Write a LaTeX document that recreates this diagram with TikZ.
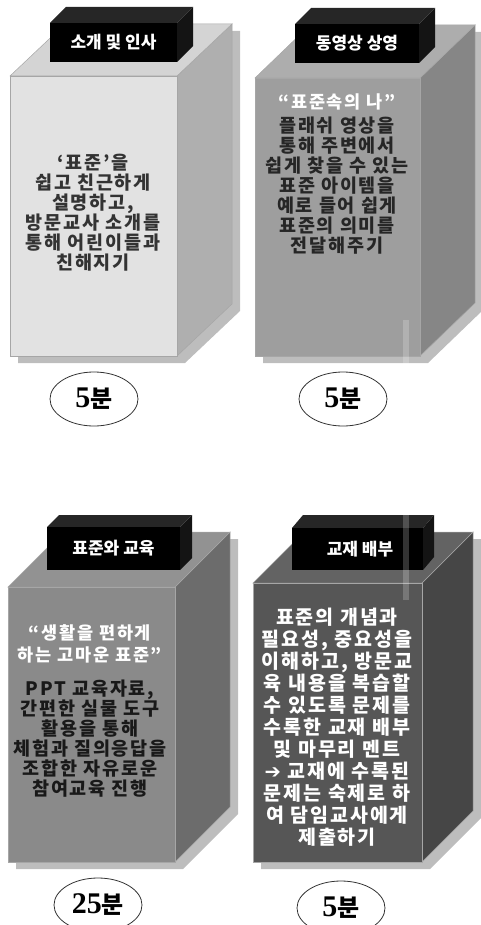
\documentclass[tikz,border=0pt]{standalone}
\usepackage{fontspec}
\setmainfont{Noto Sans CJK KR}
\newfontfamily\bodyfont[LetterSpace=10]{Noto Sans CJK KR}
\newfontfamily\numfont{Liberation Serif}
\newfontfamily\symfont{DejaVu Sans}
\usetikzlibrary{shapes.geometric}

\definecolor{frontA}{HTML}{E2E2E2}
\definecolor{topA}{HTML}{D4D4D4}
\definecolor{sideA}{HTML}{AFAFAF}
\definecolor{frontB}{HTML}{9E9E9E}
\definecolor{topB}{HTML}{ADADAD}
\definecolor{sideB}{HTML}{868686}
\definecolor{frontC}{HTML}{8A8A8A}
\definecolor{topC}{HTML}{929292}
\definecolor{sideC}{HTML}{6C6C6C}
\definecolor{frontD}{HTML}{565656}
\definecolor{topD}{HTML}{636363}
\definecolor{sideD}{HTML}{464646}
\definecolor{castgray}{HTML}{BDBDBD}

\begin{document}
\begin{tikzpicture}[
        x=1pt, y=-1pt,
        % Define styles for consistency
        face/.style={draw=black!35, line width=0.5pt},
        cast/.style={fill=castgray},
        tabfront/.style={fill=black},
        tabtop/.style={fill=black!85},
        tabside/.style={fill=black!92},
        tablabel/.style={text=white, font=\fontsize{17}{17}\selectfont\bfseries},
        bodytext/.style={align=center, font=\fontsize{18.5}{20}\bodyfont\bfseries},
        quotetext/.style={align=center, text=white, font=\fontsize{17.5}{22}\bodyfont\bfseries},
        timebox/.style={ellipse, draw=black!80, line width=0.8pt, fill=white,
                        minimum width=88pt, minimum height=54pt, inner sep=0pt,
                        font=\fontsize{24}{24}\selectfont\bfseries}
    ]

        \useasboundingbox (0,0) rectangle (481,925);

        % --- Shadows ---
        \fill[cast, shift={(8,7)}] (10,356) -- (10,76) -- (65,24) -- (232,24) -- (232,304) -- (177,356) -- cycle;
        \fill[cast, shift={(8,7)}] (255,356) -- (255,78) -- (310,25) -- (475,25) -- (475,303) -- (420,356) -- cycle;
        \fill[cast, shift={(8,7)}] (8,862) -- (8,587) -- (63,532) -- (230,532) -- (230,807) -- (175,862) -- cycle;
        \fill[cast, shift={(8,7)}] (253,862) -- (253,583) -- (304,532) -- (473,532) -- (473,811) -- (422,862) -- cycle;

        % --- Box 1: introduction ---
        \filldraw[face, fill=sideA] (177,76) -- (232,24) -- (232,304) -- (177,356) -- cycle;
        \filldraw[face, fill=topA] (10,76) -- (65,24) -- (232,24) -- (177,76) -- cycle;
        \filldraw[face, fill=frontA] (10,76) rectangle (177,356);
        \fill[tabside] (177,23) -- (193,7) -- (193,46) -- (177,62) -- cycle;
        \fill[tabtop] (50,23) -- (66,7) -- (193,7) -- (177,23) -- cycle;
        \fill[tabfront] (50,23) rectangle (177,62);

        % --- Box 2: video ---
        \filldraw[face, fill=sideB] (420,78) -- (475,25) -- (475,303) -- (420,356) -- cycle;
        \filldraw[face, fill=topB] (255,78) -- (310,25) -- (475,25) -- (420,78) -- cycle;
        \filldraw[face, fill=frontB] (255,78) rectangle (420,356);
        \fill[tabside] (419,24) -- (435,8) -- (435,47) -- (419,63) -- cycle;
        \fill[tabtop] (295,24) -- (311,8) -- (435,8) -- (419,24) -- cycle;
        \fill[tabfront] (295,24) rectangle (419,63);

        % --- Box 3: lesson ---
        \filldraw[face, fill=sideC] (175,587) -- (230,532) -- (230,807) -- (175,862) -- cycle;
        \filldraw[face, fill=topC] (8,587) -- (63,532) -- (230,532) -- (175,587) -- cycle;
        \filldraw[face, fill=frontC] (8,587) rectangle (175,862);
        \fill[tabside] (180,527) -- (192,515) -- (192,558) -- (180,570) -- cycle;
        \fill[tabtop] (47,527) -- (59,515) -- (192,515) -- (180,527) -- cycle;
        \fill[tabfront] (47,527) rectangle (180,570);

        % --- Box 4: handout ---
        \filldraw[face, fill=sideD] (422,583) -- (473,532) -- (473,811) -- (422,862) -- cycle;
        \filldraw[face, fill=topD] (253,583) -- (304,532) -- (473,532) -- (422,583) -- cycle;
        \filldraw[face, fill=frontD] (253,583) rectangle (422,862);
        \fill[tabside] (423,528) -- (434,515) -- (434,557) -- (423,570) -- cycle;
        \fill[tabtop] (292,528) -- (303,515) -- (434,515) -- (423,528) -- cycle;
        \fill[tabfront] (292,528) rectangle (423,570);

        % faint light streak
        \fill[white, opacity=0.2] (403,320) rectangle (409,600);

        % --- Tab labels ---
        \node[tablabel] (tab_intro) at (113.5,42.5) {소개 및 인사};
        \node[tablabel] (tab_video) at (357,43.5) {동영상 상영};
        \node[tablabel] (tab_lesson) at (113.5,548.5) {표준와 교육};
        \node[tablabel] (tab_book) at (360,549) {교재 배부};

        % --- Box texts ---
        \node[bodytext, text=black!80] (txt_intro) at (93,212.5)
            {‘표준’을\\쉽고 친근하게\\설명하고,\\방문교사 소개를\\통해 어린이들과\\친해지기};
        \node[quotetext] (quote_video) at (337,102) {“표준속의 나”};
        \node[bodytext, text=black!85] (txt_video) at (337,186)
            {플래쉬 영상을\\통해 주변에서\\쉽게 찾을 수 있는\\표준 아이템을\\예로 들어 쉽게\\표준의 의미를\\전달해주기};
        \node[quotetext] (quote_lesson) at (90,644) {“생활을 편하게\\하는 고마운 표준”};
        \node[bodytext, text=black!90] (txt_lesson) at (90,739)
            {PPT 교육자료,\\간편한 실물 도구\\활용을 통해\\체험과 질의응답을\\조합한 자유로운\\참여교육 진행};
        \node[bodytext, text=white, font=\fontsize{19.5}{22}\bodyfont\bfseries] (txt_book) at (337,727)
            {표준의 개념과\\필요성, 중요성을\\이해하고, 방문교\\육 내용을 복습할\\수 있도록 문제를\\수록한 교재 배부\\및 마무리 멘트\\{\symfont ➔} 교재에 수록된\\문제는 숙제로 하\\여 담임교사에게\\제출하기};

        % --- Time ellipses ---
        \node[timebox] (time_intro) at (94,399) {{\numfont\fontsize{30}{30}\selectfont\bfseries 5}분};
        \node[timebox] (time_video) at (343,399) {{\numfont\fontsize{30}{30}\selectfont\bfseries 5}분};
        \node[timebox] (time_lesson) at (98,905) {{\numfont\fontsize{30}{30}\selectfont\bfseries 25}분};
        \node[timebox] (time_book) at (341,908) {{\numfont\fontsize{30}{30}\selectfont\bfseries 5}분};

    \end{tikzpicture}
\end{document}
